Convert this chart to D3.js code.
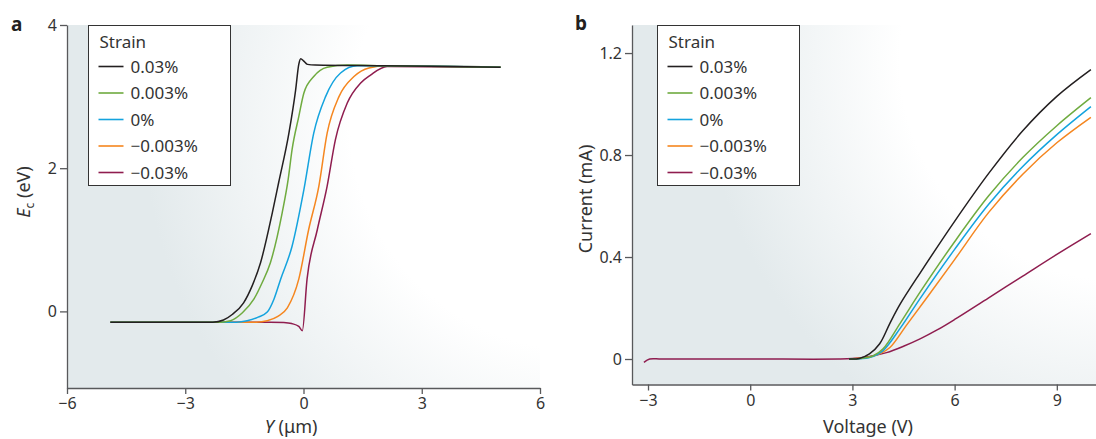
<!DOCTYPE html>
<html>
<head>
<meta charset="utf-8">
<script src="https://cdn.jsdelivr.net/npm/d3@7"></script>
<style>
  body { margin: 0; background: #fff; }
  svg { display: block; font-family: 'Noto Sans', sans-serif; }
  .axis path, .axis line { stroke: #58595b; stroke-width: 1.3; }
  .axis text { font-size: 16px; fill: #333; font-family: 'Noto Sans', sans-serif; }
  .lbl { font-size: 18px; fill: #333; }
  .leg { font-size: 17px; fill: #333; }
  .curve { fill: none; stroke-width: 1.5; }
</style>
</head>
<body>
<div id="chart"></div>
<script>
const strainLabels = ['0.03%', '0.003%', '0%', '\u22120.003%', '\u22120.03%']
const strainColors = ['#231f20', '#6fab3f', '#14a3de', '#f5861f', '#8f1d4f']

// panel a: conduction band edge Ec (eV) vs Y (um)
const ecStrain003 = [[-4.9, -0.15], [-2.3, -0.15], [-2.03, -0.12], [-1.8, -0.04], [-1.52, 0.12], [-1.3, 0.36], [-1.09, 0.68], [-0.79, 1.38], [-0.63, 1.8], [-0.37, 2.49], [-0.2, 3.09], [-0.12, 3.45], [-0.07, 3.53], [0.0, 3.5], [0.1, 3.45], [0.3, 3.44], [2, 3.43], [5, 3.41]]
const ecStrain0003 = [[-4.9, -0.15], [-2.1, -0.15], [-1.85, -0.13], [-1.55, -0.02], [-1.26, 0.17], [-1.05, 0.4], [-0.84, 0.68], [-0.54, 1.38], [-0.39, 1.84], [-0.29, 2.26], [-0.12, 2.72], [0.01, 3.05], [0.26, 3.28], [0.6, 3.41], [1.11, 3.44], [2, 3.43], [5, 3.41]]
const ecStrain0 = [[-4.9, -0.15], [-1.7, -0.15], [-1.43, -0.13], [-1.15, -0.08], [-0.92, -0.01], [-0.75, 0.17], [-0.58, 0.45], [-0.29, 0.91], [0.01, 1.7], [0.26, 2.49], [0.56, 3.0], [0.94, 3.33], [1.36, 3.43], [2, 3.43], [5, 3.41]]
const ecStrainM0003 = [[-4.9, -0.15], [-1.2, -0.15], [-0.92, -0.13], [-0.65, -0.07], [-0.41, 0.05], [-0.12, 0.45], [0.13, 1.14], [0.39, 1.75], [0.6, 2.49], [0.9, 3.0], [1.28, 3.28], [1.66, 3.4], [2.1, 3.43], [5, 3.41]]
const ecStrainM003 = [[-4.9, -0.15], [-0.84, -0.15], [-0.5, -0.155], [-0.3, -0.17], [-0.12, -0.21], [-0.03, -0.27], [0.09, 0.45], [0.35, 1.14], [0.6, 1.75], [0.81, 2.4], [1.11, 2.91], [1.45, 3.19], [1.7, 3.3], [2.12, 3.42], [5, 3.41]]

// panel b: current (mA) vs voltage (V)
const ivStrain003 = [[2.9, 0], [3.2, 0.002], [3.5, 0.02], [3.8, 0.06], [4.1, 0.14], [4.4, 0.215], [5, 0.34], [6, 0.54], [7, 0.728], [8, 0.895], [9, 1.03], [10, 1.135]]
const ivStrain0003 = [[2.9, 0], [3.3, 0.003], [3.6, 0.012], [3.9, 0.04], [4.4, 0.14], [5, 0.265], [6, 0.46], [7, 0.64], [8, 0.79], [9, 0.915], [10, 1.025]]
const ivStrain0 = [[2.9, 0], [3.3, 0.002], [3.6, 0.01], [3.9, 0.033], [4.4, 0.12], [5, 0.24], [6, 0.43], [7, 0.607], [8, 0.755], [9, 0.88], [10, 0.99]]
const ivStrainM0003 = [[2.9, 0], [3.5, 0.008], [3.8, 0.02], [4.1, 0.045], [4.6, 0.135], [5.2, 0.243], [6, 0.39], [7, 0.575], [8, 0.725], [9, 0.848], [10, 0.948]]
const ivStrainM003 = [[-3.12, -0.013], [-2.95, 0], [-2.6, 0], [0, 0], [2.6, 0], [3.0, 0.002], [3.5, 0.01], [4, 0.025], [4.5, 0.05], [5, 0.08], [5.5, 0.115], [6, 0.155], [7, 0.24], [8, 0.325], [9, 0.41], [10, 0.492]]

const ticksA_x = [-6, -3, 0, 3, 6]
const ticksA_y = [0, 2, 4]
const ticksB_x = [-3, 0, 3, 6, 9]
const ticksB_y = [0, 0.4, 0.8, 1.2]

const fmt = (d) => (d < 0 ? '\u2212' + Math.abs(d) : String(d))

const svg = d3.select('#chart').append('svg').attr('width', 1096).attr('height', 439)
const defs = svg.append('defs')

function addGradient(id, cx, cy, r) {
  const g = defs.append('radialGradient').attr('id', id)
    .attr('gradientUnits', 'userSpaceOnUse')
    .attr('cx', cx).attr('cy', cy).attr('r', r)
  g.append('stop').attr('offset', 0).attr('stop-color', '#ffffff')
  g.append('stop').attr('offset', 0.5).attr('stop-color', '#ffffff')
  g.append('stop').attr('offset', 0.95).attr('stop-color', '#e3eaec')
  g.append('stop').attr('offset', 1).attr('stop-color', '#e3eaec')
}

function drawPanel(opt) {
  const x = d3.scaleLinear().domain(opt.xDomain).range(opt.xRange)
  const y = d3.scaleLinear().domain(opt.yDomain).range(opt.yRange)

  addGradient(opt.id + 'grad', opt.grad[0], opt.grad[1], opt.grad[2])
  svg.append('rect')
    .attr('x', opt.xRange[0]).attr('y', opt.yRange[1])
    .attr('width', opt.xRange[1] - opt.xRange[0])
    .attr('height', opt.yRange[0] - opt.yRange[1])
    .attr('fill', 'url(#' + opt.id + 'grad)')

  svg.append('g').attr('class', 'axis')
    .attr('transform', 'translate(0,' + opt.yRange[0] + ')')
    .call(d3.axisBottom(x).tickValues(opt.xTicks).tickFormat(fmt).tickSize(6).tickSizeOuter(0).tickPadding(4))
  svg.append('g').attr('class', 'axis')
    .attr('transform', 'translate(' + opt.xRange[0] + ',0)')
    .call(d3.axisLeft(y).tickValues(opt.yTicks).tickFormat(opt.yFmt).tickSize(7).tickSizeOuter(0).tickPadding(3))

  const line = d3.line()
    .x((d) => x(d[0]))
    .y((d) => y(d[1]))
    .curve(opt.curve)

  opt.order.forEach((i) => {
    svg.append('path')
      .datum(opt.series[i])
      .attr('class', 'curve')
      .attr('stroke', strainColors[i])
      .attr('d', line)
  })

  // legend
  const lg = svg.append('g').attr('transform', 'translate(' + opt.legend[0] + ',' + opt.legend[1] + ')')
  lg.append('rect').attr('width', 142).attr('height', 160)
    .attr('fill', '#fff').attr('stroke', '#333').attr('stroke-width', 1)
  lg.append('text').attr('class', 'leg').attr('x', 11).attr('y', 22).text('Strain')
  strainLabels.forEach((lab, i) => {
    const yy = 41 + i * 26.5
    lg.append('line').attr('x1', 10).attr('x2', 35).attr('y1', yy).attr('y2', yy)
      .attr('stroke', strainColors[i]).attr('stroke-width', 1.6)
    lg.append('text').attr('class', 'leg').attr('x', 42).attr('y', yy + 6).text(lab)
  })

  svg.append('text').attr('x', opt.tag[0]).attr('y', opt.tag[1])
    .attr('font-size', 19).attr('font-weight', 'bold').attr('fill', '#231f20').text(opt.id)
}

drawPanel({
  id: 'a',
  xDomain: [-6, 6], xRange: [67, 540],
  yDomain: [-1.07, 4], yRange: [388, 25],
  xTicks: ticksA_x, yTicks: ticksA_y, yFmt: fmt,
  series: [ecStrain003, ecStrain0003, ecStrain0, ecStrainM0003, ecStrainM003],
  order: [4, 3, 2, 1, 0],
  curve: d3.curveMonotoneX,
  legend: [88.5, 25.5],
  grad: [580, 120, 460],
  tag: [11, 31]
})

drawPanel({
  id: 'b',
  xDomain: [-3.47, 10.15], xRange: [632, 1096],
  yDomain: [-0.1, 1.31], yRange: [384.5, 25],
  xTicks: ticksB_x, yTicks: ticksB_y, yFmt: (d) => (d === 0 ? '0' : d3.format('.1f')(d)),
  series: [ivStrain003, ivStrain0003, ivStrain0, ivStrainM0003, ivStrainM003],
  order: [4, 3, 2, 1, 0],
  curve: d3.curveCatmullRom.alpha(0.5),
  legend: [657.5, 25.5],
  grad: [1120, 60, 440],
  tag: [575, 30]
})

// axis titles
const ta = svg.append('text').attr('class', 'lbl').attr('text-anchor', 'middle')
  .attr('transform', 'translate(30,192) rotate(-90)')
ta.append('tspan').attr('font-style', 'italic').text('E')
ta.append('tspan').attr('font-size', 12).attr('dy', 4).text('c')
ta.append('tspan').attr('dy', -4).text(' (eV)')

const tx = svg.append('text').attr('class', 'lbl').attr('text-anchor', 'middle')
  .attr('x', 291).attr('y', 433)
tx.append('tspan').attr('font-style', 'italic').text('Y')
tx.append('tspan').text(' (\u03bcm)')

svg.append('text').attr('class', 'lbl').attr('text-anchor', 'middle')
  .attr('transform', 'translate(592,199) rotate(-90)').text('Current (mA)')
svg.append('text').attr('class', 'lbl').attr('text-anchor', 'middle')
  .attr('x', 868).attr('y', 433).text('Voltage (V)')
</script>
</body>
</html>
